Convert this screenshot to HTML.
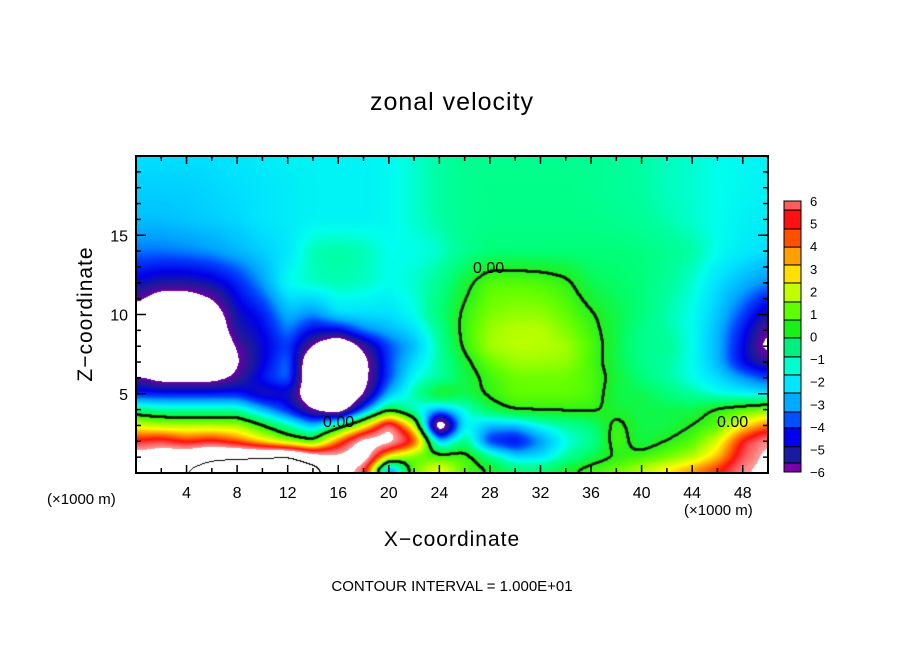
<!DOCTYPE html>
<html><head><meta charset="utf-8"><style>
body{margin:0;background:#fff;width:904px;height:654px;position:relative;overflow:hidden;font-family:"Liberation Sans","DejaVu Sans",sans-serif;}
.t{position:absolute;white-space:nowrap;color:#000;}
</style></head><body>
<div class="t" style="left:0;width:904px;text-align:center;top:88px;font-size:25px;letter-spacing:1px;">zonal velocity</div>
<canvas id="cv" width="632" height="317" style="position:absolute;left:136px;top:156px;"></canvas>
<svg id="ov" width="904" height="654" style="position:absolute;left:0;top:0;"></svg>
<div class="t" style="left:86px;top:314px;font-size:21px;transform:translate(-50%,-50%) rotate(-90deg);letter-spacing:1px;">Z−coordinate</div>
<div class="t" style="left:452px;top:540px;font-size:21px;transform:translate(-50%,-50%);letter-spacing:1px;">X−coordinate</div>
<div class="t" style="left:47px;top:491px;font-size:15px;">(×1000 m)</div>
<div class="t" style="left:684px;top:502px;font-size:15px;">(×1000 m)</div>
<div class="t" style="left:0;width:904px;text-align:center;top:578px;font-size:15px;">CONTOUR INTERVAL = 1.000E+01</div>
<script>
const xs=[0,2,4,6,8,10,12,14,16,18,20,22,24,26,28,30,32,34,36,38,40,42,44,46,48,50];
const zs=[0,1,2,3,4,5,6,7,8,9,10,12,14,16,18,20];
const u=[
/*z0*/[9,9.5,10.3,11.5,12,12.5,13,12,8,5,-6,1,3,0.5,0.2,-0.5,-0.5,0.2,0.5,1,2,3,4,5,6.5,7],
/*z1*/[7.5,8,8.5,9.5,9.8,9.9,10.5,8,7,8,2,0.5,0.5,0.5,-1,-2.5,-2.5,-1.5,-0.5,0,0.3,0.8,1.5,3,5.5,7],
/*z2*/[5,5.5,4.5,5,4,2.5,1,0,4,7.5,7.5,5,-3,-1,-4.5,-5,-3.5,-2,-1.5,0.5,-0.5,0,0.5,2,5,6.5],
/*z3*/[2,1.5,1.5,1.5,1.5,0,-1.5,-3,-1,2,6.5,2,-9,-2,-3,-3,-2,-1.5,-1,0.3,-0.5,-0.5,0,0.5,2.5,4],
/*z4*/[-1,-1.5,-1.5,-1.5,-1.5,-3,-4.5,-6.5,-8,-4,-0.5,-2,-3,-2,-0.5,0.2,0.2,0.2,0.2,-0.3,-0.5,-0.5,-0.5,0.2,0.5,1],
/*z5*/[-4.5,-4.5,-4.5,-4.5,-4.5,-5.5,-5.2,-8,-9.5,-6.5,-3,-1.5,0.2,-0.5,0.2,0.7,0.7,0.7,0.5,-0.5,-0.5,-1,-1.5,-2,-2.2,-2.5],
/*z6*/[-5.8,-7,-7,-7,-6,-4.5,-3.5,-8.5,-9.5,-7,-4,-2,-1.5,-0.5,0.3,0.8,0.8,0.8,0.5,-0.3,-1,-1.5,-2,-2.5,-3.3,-4],
/*z7*/[-10,-10,-10,-10,-6.5,-5,-3.5,-8.5,-9.5,-7,-4,-2.5,-1.5,-0.3,0.8,1.3,1.3,1.2,0.4,-0.5,-1.2,-1.5,-2,-3,-4.8,-6],
/*z8*/[-10,-10,-10,-8.5,-6.2,-5,-4,-6.5,-8.5,-6,-4,-3,-1.5,0.2,1.4,1.6,1.6,1.4,0.5,-0.5,-1.3,-1.3,-2,-3,-4.8,-7],
/*z9*/[-10,-10,-10,-8,-5.5,-4.8,-3.5,-4.8,-4.8,-3.5,-3,-2.5,-1.3,0.3,1.3,1.6,1.6,1,0.3,-0.5,-1.2,-1.5,-2,-3,-4.5,-6.5],
/*z10*/[-7,-9,-9,-7.5,-5.2,-4.5,-3,-3.5,-2.5,-2.5,-2.5,-2,-1,0.2,1,1.2,1.2,0.7,0.1,-0.5,-1,-1.6,-2,-2.8,-4,-5.5],
/*z12*/[-5,-5.5,-5.5,-5.2,-4.4,-3.3,-2,-1.7,-1.6,-1.7,-2,-1.8,-1.3,-0.3,0.6,0.6,0.5,0.2,-0.6,-0.8,-1,-1.4,-1.8,-2.5,-3,-3.5],
/*z14*/[-3.6,-3.6,-3.5,-3.3,-3,-2.7,-2.4,-1.6,-1.5,-1.6,-2,-2,-1.8,-1.3,-1,-1,-1,-1,-1,-1,-1.1,-1.3,-1.5,-2,-2.3,-2.5],
/*z16*/[-2.9,-2.9,-2.8,-2.7,-2.6,-2.4,-2.3,-2.2,-2.2,-2.2,-2.1,-1.8,-1.5,-1.3,-1.2,-1.2,-1.2,-1.2,-1.2,-1.3,-1.4,-1.6,-1.8,-2,-2.2,-2.3],
/*z18*/[-2.7,-2.7,-2.7,-2.6,-2.5,-2.4,-2.3,-2.2,-2.2,-2.2,-2.1,-1.8,-1.5,-1.3,-1.2,-1.2,-1.2,-1.2,-1.3,-1.4,-1.5,-1.7,-1.8,-2,-2.1,-2.2],
/*z20*/[-2.5,-2.5,-2.5,-2.5,-2.4,-2.3,-2.2,-2.2,-2.2,-2.2,-2.1,-1.8,-1.5,-1.3,-1.3,-1.3,-1.3,-1.3,-1.3,-1.4,-1.5,-1.7,-1.8,-2,-2.1,-2.2]];
const cbLabels=[6,5,4,3,2,1,0,-1,-2,-3,-4,-5,-6];
const cbLevels=[-6,-5.6,-4.88,-4.04,-3.34,-2.5,-1.7,-0.9,-0.06,0.73,1.53,2.37,3.17,3.96,4.76,5.6,6.5];
const cbColors=["#7a00a8","#1a1aa0","#0000f0","#0050ff","#00aaff","#00e6ff","#00ffcc","#00f080","#18f018","#60ff00","#c0ff00","#ffe000","#ffa000","#ff5000","#ff1010","#ff5c5c","#ff9c9c"];
const anchV=[-6.4,-5.5,-4.8,-4.0,-3.3,-2.5,-2.0,-1.5,-0.9,-0.06,0.7,1.5,2.4,3.2,4.0,4.8,5.6,6.5];
const anchC=["#6a00a0","#1a1a9c","#0000e8","#0040ff","#00a0ff","#00e0ff","#00ffee","#00ffa0","#00ff70","#20f020","#60ff00","#b0ff00","#ffff00","#ffb000","#ff6000","#ff1010","#ff5858","#ff9c9c"];
const X0=136,Y0=156,W=632,H=317;
const sx=x=>X0+x/50*W, sy=z=>Y0+H-z/20*H;
function val(x,z){
  let i=0;while(i<xs.length-2&&x>xs[i+1])i++;
  let j=0;while(j<zs.length-2&&z>zs[j+1])j++;
  const tx=Math.min(1,Math.max(0,(x-xs[i])/(xs[i+1]-xs[i]))),tz=Math.min(1,Math.max(0,(z-zs[j])/(zs[j+1]-zs[j])));
  return u[j][i]*(1-tx)*(1-tz)+u[j][i+1]*tx*(1-tz)+u[j+1][i]*(1-tx)*tz+u[j+1][i+1]*tx*tz;
}
const hx=c=>[parseInt(c.substr(1,2),16),parseInt(c.substr(3,2),16),parseInt(c.substr(5,2),16)];
function col(v){
  if(v<anchV[0]||v>=anchV[anchV.length-1])return [255,255,255];
  let k=0;while(k<anchV.length-2&&v>=anchV[k+1])k++;
  const t=(v-anchV[k])/(anchV[k+1]-anchV[k]);const a=hx(anchC[k]),b=hx(anchC[k+1]);
  return [0,1,2].map(i=>Math.round(a[i]+(b[i]-a[i])*t));
}
const cv=document.getElementById('cv'),ctx=cv.getContext('2d');
let V=[];
for(let py=0;py<H;py++){V.push([]);for(let px=0;px<W;px++){V[py].push(val((px+0.5)/W*50,(H-py-0.5)/H*20));}}
function blur(R){
  const A=V.map(r=>r.slice());
  for(let py=0;py<H;py++)for(let px=0;px<W;px++){let s=0,n=0;for(let k=-R;k<=R;k++){const q=px+k;if(q>=0&&q<W){s+=V[py][q];n++;}}A[py][px]=s/n;}
  const B=A.map(r=>r.slice());
  for(let py=0;py<H;py++)for(let px=0;px<W;px++){let s=0,n=0;for(let k=-R;k<=R;k++){const q=py+k;if(q>=0&&q<H){s+=A[q][px];n++;}}B[py][px]=s/n;}
  V=B;
}
blur(5);blur(4);
const img=ctx.createImageData(W,H);
for(let py=0;py<H;py++)for(let px=0;px<W;px++){
  const v=V[py][px];let c=col(v);
  const r=px<W-1?V[py][px+1]:v,d=py<H-1?V[py+1][px]:v;
  if((v<10)!==(r<10)||(v<10)!==(d<10))c=[0,0,0];
  const o=(py*W+px)*4;img.data[o]=c[0];img.data[o+1]=c[1];img.data[o+2]=c[2];img.data[o+3]=255;
}
ctx.putImageData(img,0,0);
ctx.fillStyle='#000';
for(let py=0;py<H-1;py++)for(let px=0;px<W-1;px++){const v=V[py][px];if((v<0)!==(V[py][px+1]<0)||(v<0)!==(V[py+1][px]<0))ctx.fillRect(px-0.5,py-0.5,2,2);}
const NS='http://www.w3.org/2000/svg',svg=document.getElementById('ov');
function el(t,a){const e=document.createElementNS(NS,t);for(const k in a)e.setAttribute(k,a[k]);svg.appendChild(e);return e;}
function tx(x,y,s,fs,anchor){const e=el('text',{x:x,y:y,'font-size':fs,'text-anchor':anchor||'middle','font-family':'Liberation Sans, sans-serif'});e.textContent=s;return e;}
let fr=el('rect',{x:X0,y:Y0,width:W,height:H,fill:'none',stroke:'#000','stroke-width':2});


for(let x=2;x<50;x+=2){const L=x%4===0?8:5;
  el('line',{x1:sx(x),x2:sx(x),y1:Y0+H,y2:Y0+H-L,stroke:'#000','stroke-width':1.5});
  el('line',{x1:sx(x),x2:sx(x),y1:Y0,y2:Y0+L,stroke:'#000','stroke-width':1.5});
  if(x%4===0){const t=tx(sx(x),Y0+H+25,String(x),16);
    
    }
}
for(let z=1;z<20;z++){const L=z%5===0?10:5;
  el('line',{x1:X0,x2:X0+L,y1:sy(z),y2:sy(z),stroke:'#000','stroke-width':1.5});
  el('line',{x1:X0+W,x2:X0+W-L,y1:sy(z),y2:sy(z),stroke:'#000','stroke-width':1.5});
  if(z%5===0){const t=tx(X0-8,sy(z)+6,String(z),16,'end');
    
    }
}
[[473,267],[323,421],[717,421]].forEach(p=>{
  const t=tx(p[0],p[1]+6,'0.00',16,'start');
  
  
});
const cbTop=201,cbBot=472,cbX=784,cbW=17;
const cy=v=>cbTop+(6-v)/12*(cbBot-cbTop);
for(let k=0;k<cbColors.length;k++){
  const lo=Math.max(cbLevels[k],-6.4),hi=Math.min(cbLevels[k+1],6);
  const y1=Math.max(cbTop,cy(hi)),y2=Math.min(cbBot,cy(lo));
  const r=el('rect',{x:cbX,y:y1,width:cbW,height:y2-y1,fill:cbColors[k],stroke:'#000','stroke-width':1});
  
  
}
cbLabels.forEach(v=>{const t=tx(810,cy(v)+5,v<0?'−'+(-v):String(v),13,'start');
  
  });
</script>
</body></html>
